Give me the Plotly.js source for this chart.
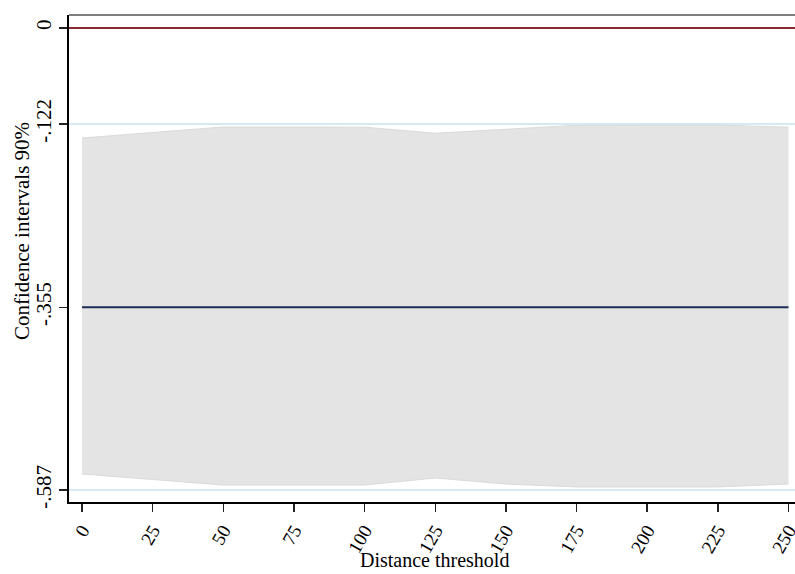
<!DOCTYPE html>
<html>
<head>
<meta charset="utf-8">
<script src="https://cdn.plot.ly/plotly-3.0.1.min.js"></script>
<style>html,body{margin:0;padding:0;background:#fff;}#chart{width:795px;height:574px;}</style>
</head>
<body>
<div id="chart"></div>
<script>
// Data
const distances = [0, 25, 50, 75, 100, 125, 150, 175, 200, 225, 250];
const ciUpper = [-0.1398, -0.1328, -0.1258, -0.1258, -0.1260, -0.1338, -0.1283, -0.1236, -0.1233, -0.1233, -0.1260];
const ciLower = [-0.5667, -0.5740, -0.5807, -0.5807, -0.5807, -0.5718, -0.5794, -0.5832, -0.5832, -0.5832, -0.5794];
const estimate = [-0.355, -0.355, -0.355, -0.355, -0.355, -0.355, -0.355, -0.355, -0.355, -0.355, -0.355];
const zeroLine = 0;
const boundLines = [-0.122, -0.587];
const yTickVals = [0, -0.122, -0.355, -0.587];
const yTickText = ['0', '-.122', '-.355', '-.587'];
const xTickVals = [0, 25, 50, 75, 100, 125, 150, 175, 200, 225, 250];
const xTickText = ['0', '25', '50', '75', '100', '125', '150', '175', '200', '225', '250'];
const xTitle = 'Distance threshold';
const yTitle = 'Confidence intervals 90%';

const font = {family: 'Liberation Serif, Times New Roman, serif', color: '#000'};

const traces = [
  {x: distances, y: ciLower, mode: 'lines', line: {color: '#dadada', width: 1}, hoverinfo: 'skip', showlegend: false},
  {x: distances, y: ciUpper, mode: 'lines', fill: 'tonexty', fillcolor: '#e4e4e4', line: {color: '#dadada', width: 1}, hoverinfo: 'skip', showlegend: false},
  {x: distances, y: estimate, mode: 'lines', line: {color: '#1e2d55', width: 2}, showlegend: false}
];

const shapes = [];
boundLines.forEach(v => shapes.push({type: 'line', xref: 'paper', x0: 0, x1: 1, yref: 'y', y0: v, y1: v, line: {color: '#c9e3ee', width: 1.5}, layer: 'above'}));
shapes.push({type: 'line', xref: 'paper', x0: 0, x1: 1, yref: 'y', y0: zeroLine, y1: zeroLine, line: {color: '#8c2a33', width: 2}, layer: 'above'});
shapes.push({type: 'line', xref: 'paper', x0: 0, x1: 1, yref: 'paper', y0: 1, y1: 1, line: {color: '#555', width: 1.5}, layer: 'above'});

const layout = {
  width: 795, height: 574,
  margin: {l: 69, r: 0, t: 15, b: 72, pad: 0},
  paper_bgcolor: '#fff', plot_bgcolor: '#fff',
  showlegend: false,
  font: Object.assign({size: 20}, font),
  xaxis: {
    range: [-4.6, 252.3], tickvals: xTickVals, ticktext: xTickText, tickangle: -60,
    ticks: 'outside', ticklen: 8, tickwidth: 1.5, tickcolor: '#222',
    showline: true, linecolor: '#000', linewidth: 2, showgrid: false, zeroline: false,
    ticklabeloverflow: 'allow',
    tickfont: Object.assign({size: 19}, font)
  },
  yaxis: {
    range: [-0.6023, 0.0165], tickvals: yTickVals, ticktext: yTickText, tickangle: -90,
    ticks: 'outside', ticklen: 8, tickwidth: 1.5, tickcolor: '#222',
    showline: true, linecolor: '#000', linewidth: 2, showgrid: false, zeroline: false,
    ticklabeloverflow: 'allow',
    tickfont: Object.assign({size: 21}, font)
  },
  annotations: [
    {text: xTitle, xref: 'paper', yref: 'paper', x: 0.504, y: 0, yshift: -71, xanchor: 'center', yanchor: 'bottom', showarrow: false, font: Object.assign({size: 20}, font)},
    {text: yTitle, xref: 'paper', yref: 'paper', x: 0, y: 0.5565, xshift: -47, xanchor: 'center', yanchor: 'middle', textangle: -90, showarrow: false, font: Object.assign({size: 21}, font)}
  ],
  shapes: shapes
};

Plotly.newPlot('chart', traces, layout, {displayModeBar: false, staticPlot: true});
</script>
</body>
</html>
